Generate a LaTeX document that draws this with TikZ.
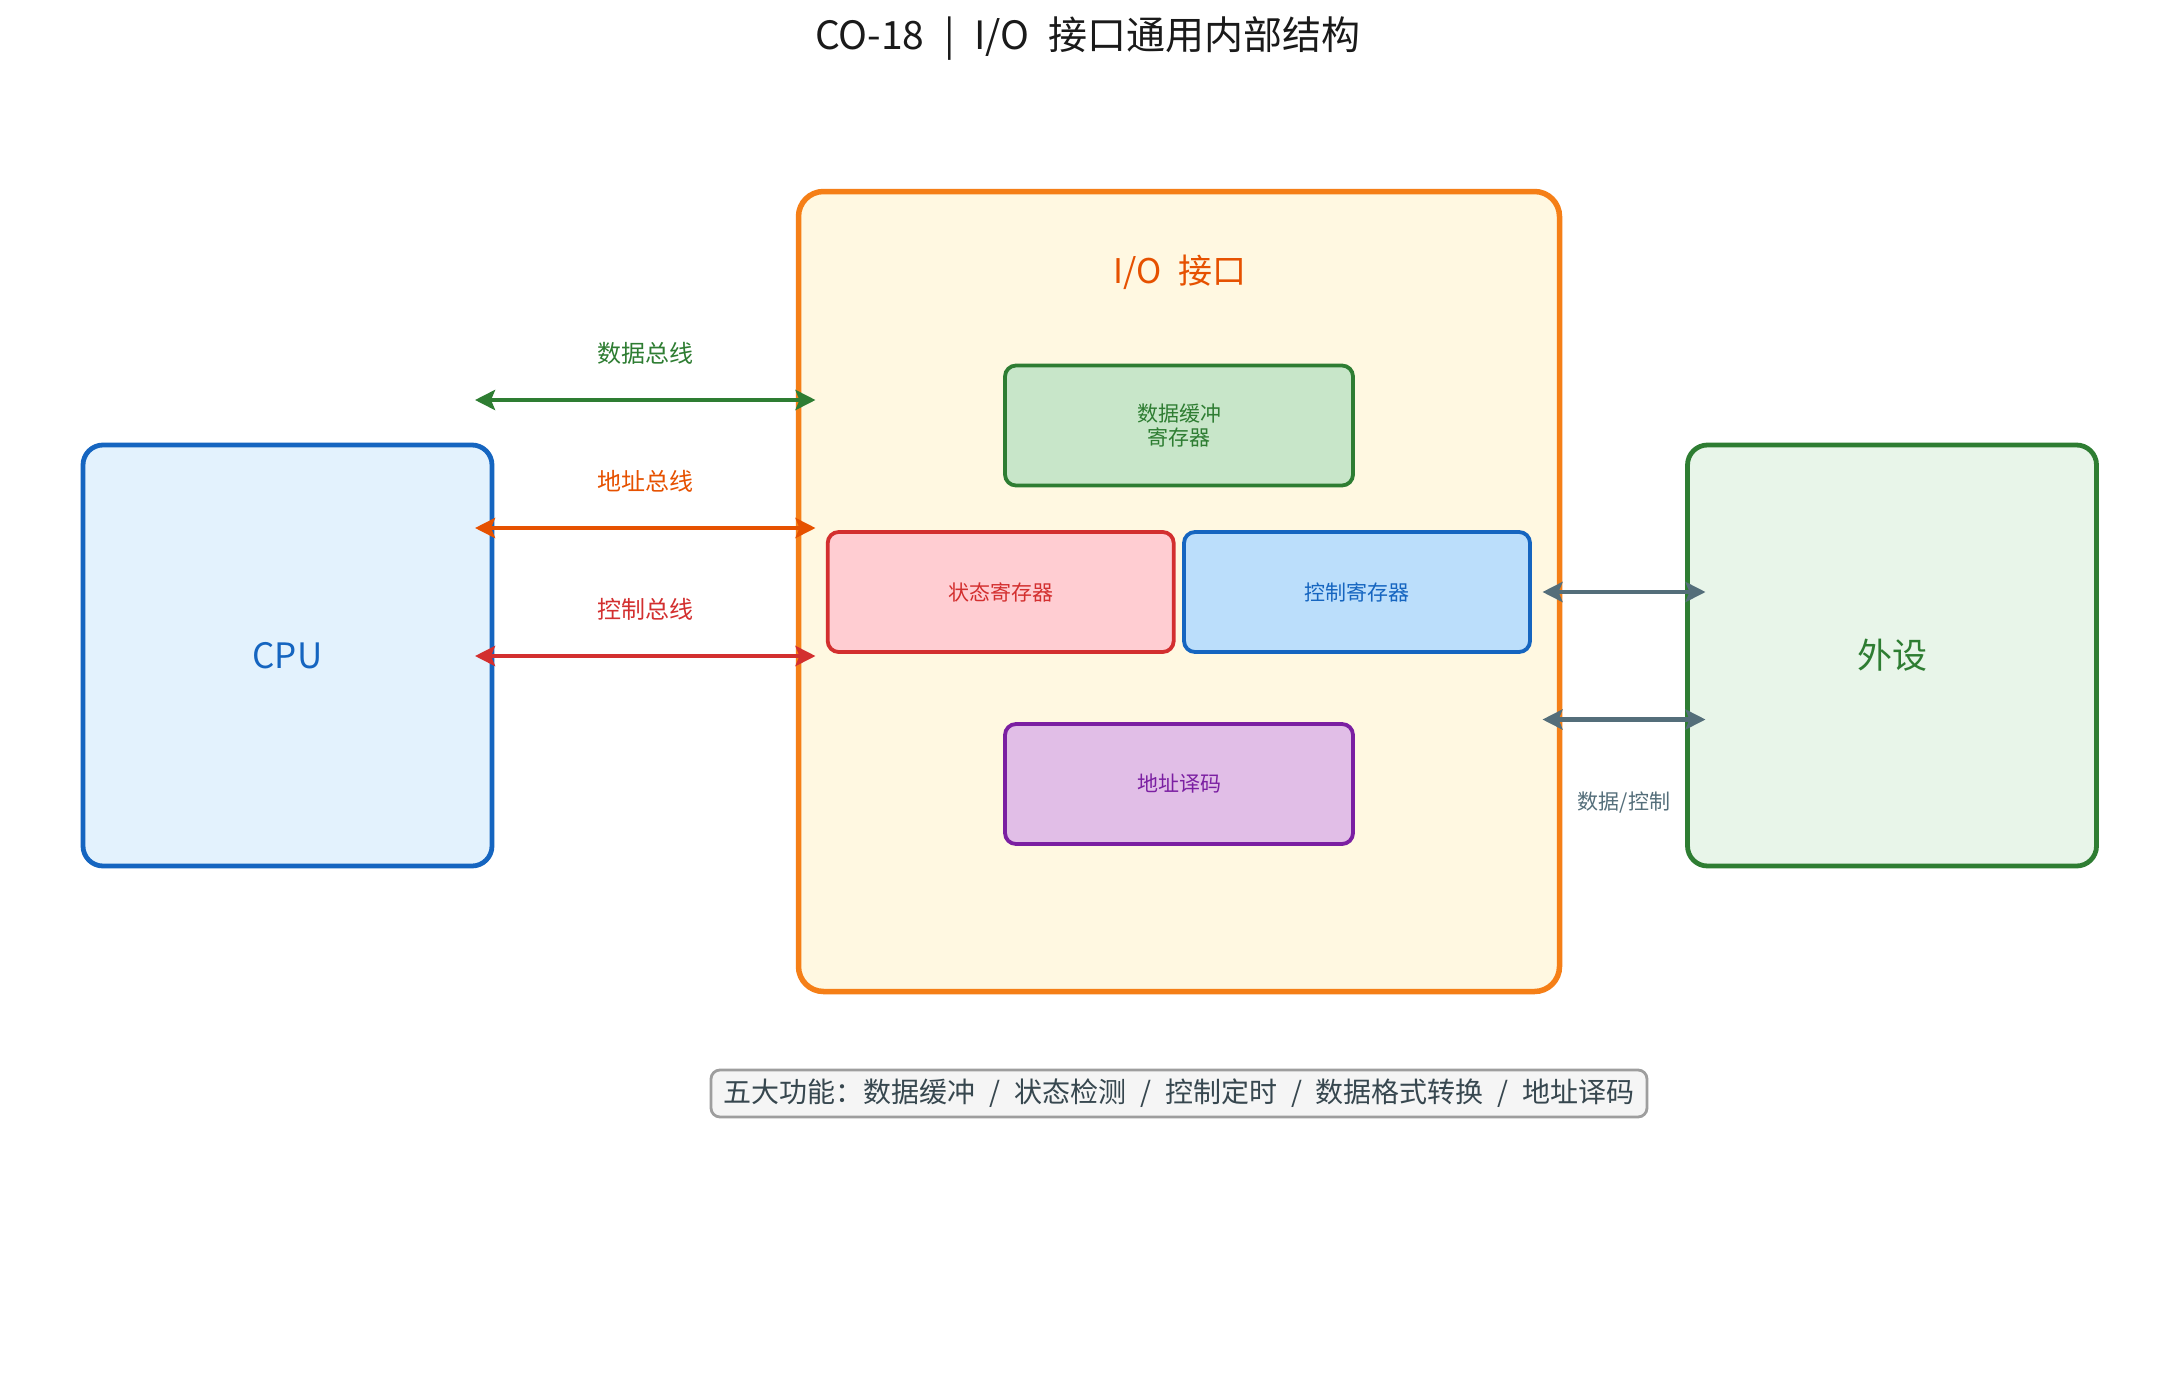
\documentclass[tikz,border=0pt]{standalone}
\usepackage{fontspec}
\setmainfont{Noto Sans CJK SC}
\usetikzlibrary{arrows.meta,calc}
\definecolor{cpuB}{HTML}{1565C0}
\definecolor{cpuF}{HTML}{E3F2FD}
\definecolor{ioB}{HTML}{F57F17}
\definecolor{ioF}{HTML}{FFF8E1}
\definecolor{ioT}{HTML}{E65100}
\definecolor{grnB}{HTML}{2E7D32}
\definecolor{grnF}{HTML}{C8E6C9}
\definecolor{perF}{HTML}{E8F5E9}
\definecolor{redB}{HTML}{D32F2F}
\definecolor{redF}{HTML}{FFCDD2}
\definecolor{bluF}{HTML}{BBDEFB}
\definecolor{purB}{HTML}{7B1FA2}
\definecolor{purF}{HTML}{E1BEE7}
\definecolor{slate}{HTML}{546E7A}
\definecolor{noteB}{HTML}{9E9E9E}
\definecolor{noteF}{HTML}{F5F5F5}
\definecolor{noteT}{HTML}{37474F}
\definecolor{titleT}{HTML}{1A1A1A}
\newcommand{\wsp}{\hspace{0.5em}}
\begin{document}
\begin{tikzpicture}[x=1pt,y=-1pt,
  every node/.style={inner sep=0pt,outer sep=0pt},
  innerbox/.style={draw,rounded corners=11pt,line width=3.8pt,minimum width=348pt,minimum height=120pt,align=center,font=\fontsize{21}{24}\selectfont},
  bigbox/.style={draw,rounded corners=20pt,line width=4.8pt,minimum width=409pt,minimum height=421pt,font=\fontsize{35}{40}\selectfont},
  bus/.style={line width=4.8pt,{Stealth[length=20pt,width=20pt,inset=4pt]}-{Stealth[length=20pt,width=20pt,inset=4pt]}},
  buslabel/.style={font=\fontsize{24}{28}\selectfont},
  smalllabel/.style={font=\fontsize{21}{24}\selectfont}
]
\useasboundingbox[fill=white] (0,0) rectangle (2179,1379);

% title
\node[text=titleT,font=\fontsize{39}{44}\selectfont] (title) at (1088,38) {CO-18\wsp|\wsp I/O\wsp 接口通用内部结构};

% I/O interface
\node[draw=ioB,fill=ioF,line width=5.5pt,rounded corners=25pt,minimum width=761pt,minimum height=800pt] (io) at (1179,591.5) {};
\node[text=ioT,font=\fontsize{34}{38}\selectfont] (iolabel) at (1180,272) {I/O\wsp 接口};

% inner boxes
\node[innerbox,draw=grnB,fill=grnF,text=grnB] (buf) at (1179,425.5) {数据缓冲\\寄存器};
\node[innerbox,draw=redB,fill=redF,text=redB,minimum width=346pt] (stat) at (1000.7,592) {状态寄存器};
\node[innerbox,draw=cpuB,fill=bluF,text=cpuB,minimum width=346pt] (ctrl) at (1357,592) {控制寄存器};
\node[innerbox,draw=purB,fill=purF,text=purB] (dec) at (1179,784) {地址译码};

% CPU and peripheral
\node[bigbox,draw=cpuB,fill=cpuF,text=cpuB] (cpu) at (287.5,655.5) {CPU};
\node[bigbox,draw=grnB,fill=perF,text=grnB] (per) at (1892,655.5) {外设};

% buses CPU <-> I/O
\coordinate (dL) at ($(cpu.east)+(-17,-255.5)$);
\coordinate (aL) at ($(cpu.east)+(-17,-127.5)$);
\coordinate (cL) at ($(cpu.east)+(-17,0.5)$);
\draw[bus,draw=grnB,fill=grnB] (dL) -- ($(dL -| io.west)+(17,0)$)
  node[midway,yshift=47pt,buslabel,text=grnB] (dlab) {数据总线};
\draw[bus,draw=ioT,fill=ioT] (aL) -- ($(aL -| io.west)+(17,0)$)
  node[midway,yshift=47pt,buslabel,text=ioT] (alab) {地址总线};
\draw[bus,draw=redB,fill=redB] (cL) -- ($(cL -| io.west)+(17,0)$)
  node[midway,yshift=47pt,buslabel,text=redB] (clab) {控制总线};

% I/O <-> peripheral
\coordinate (p1) at ($(io.east)+(-17,0.5)$);
\coordinate (p2) at ($(io.east)+(-17,128)$);
\draw[bus,draw=slate,fill=slate] (p1) -- ($(p1 -| per.west)+(18,0)$);
\draw[bus,draw=slate,fill=slate] (p2) -- ($(p2 -| per.west)+(18,0)$)
  node[midway,yshift=-83pt,smalllabel,text=slate] (plab) {数据/控制};

% note
\node[draw=noteB,fill=noteF,line width=2.8pt,rounded corners=9pt,minimum width=936pt,minimum height=47pt,text=noteT,font=\fontsize{28}{32}\selectfont] (note) at (1179,1093.5) {五大功能：数据缓冲\wsp/\wsp 状态检测\wsp/\wsp 控制定时\wsp/\wsp 数据格式转换\wsp/\wsp 地址译码};
\end{tikzpicture}
\end{document}
